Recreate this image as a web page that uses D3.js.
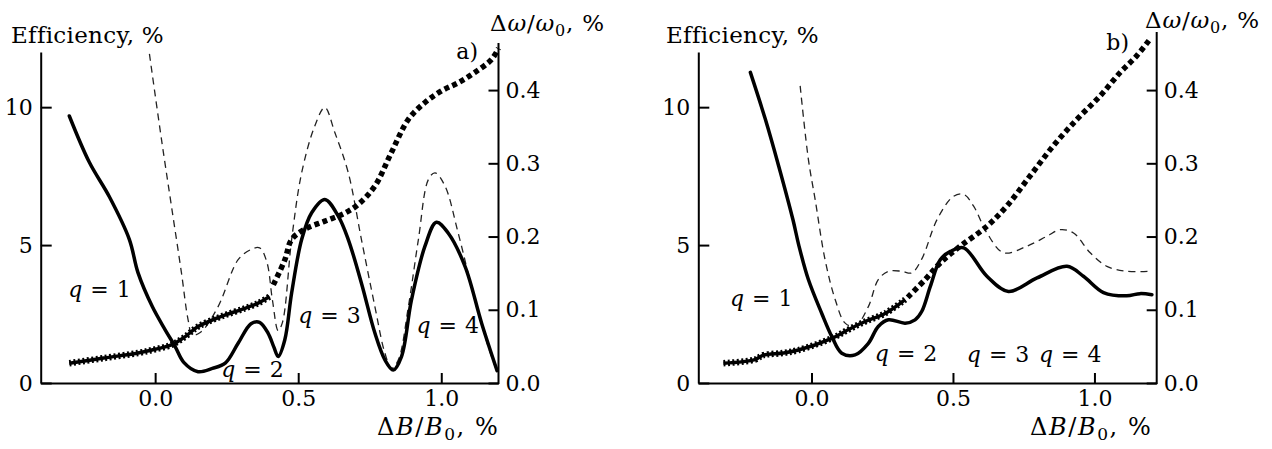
<!DOCTYPE html>
<html>
<head>
<meta charset="utf-8">
<script src="https://cdn.jsdelivr.net/npm/d3@7"></script>
<style>
  body { margin: 0; background: #fff; }
  svg text { font-family: "DejaVu Serif", "Liberation Serif", serif; fill: #000; }
</style>
</head>
<body>
<svg id="chart" width="1272" height="449"></svg>
<script>
// Ticks
const xTicks = [0.0, 0.5, 1.0];
const effTicks = [0, 5, 10];
const shiftTicks = [0.0, 0.1, 0.2, 0.3, 0.4];

// Panel a) : [ΔB/B0 %, efficiency %]
const aSolid = [[-0.30,9.68],[-0.23,8.0],[-0.16,6.75],[-0.09,5.2],[-0.06,4.0],[-0.01,2.77],[0.035,1.93],[0.07,1.32],[0.10,0.75],[0.15,0.41],[0.20,0.53],[0.245,0.72],[0.29,1.44],[0.335,2.15],[0.365,2.2],[0.395,1.8],[0.415,1.3],[0.43,0.96],[0.453,1.56],[0.477,3.26],[0.512,5.2],[0.547,6.17],[0.593,6.65],[0.64,6.05],[0.675,5.2],[0.721,3.62],[0.768,1.81],[0.803,0.84],[0.832,0.47],[0.861,0.96],[0.896,3.02],[0.943,4.96],[0.983,5.83],[1.024,5.44],[1.083,4.23],[1.141,2.17],[1.195,0.45]];
const aDashed = [[-0.02,11.93],[0.022,8.84],[0.057,6.41],[0.092,3.99],[0.115,2.3],[0.13,1.75],[0.16,1.85],[0.22,2.77],[0.29,4.47],[0.335,4.84],[0.365,4.9],[0.39,4.4],[0.41,3.0],[0.43,1.9],[0.445,2.2],[0.477,5.2],[0.512,7.62],[0.558,9.32],[0.593,9.99],[0.628,9.08],[0.675,7.62],[0.721,5.2],[0.768,2.77],[0.803,1.08],[0.826,0.53],[0.85,0.84],[0.885,2.77],[0.92,5.2],[0.955,7.38],[0.978,7.62],[1.013,7.14],[1.059,5.44],[1.117,3.02],[1.164,1.32],[1.19,0.55]];
// Δω/ω0 % (right axis)
const aShiftLow = [[-0.30,0.027],[-0.18,0.034],[-0.06,0.041],[0.0,0.046],[0.057,0.052],[0.104,0.063],[0.15,0.077],[0.232,0.091],[0.314,0.102],[0.36,0.109],[0.40,0.118]];
const aShiftHigh = [[0.413,0.134],[0.453,0.168],[0.477,0.196],[0.523,0.21],[0.593,0.221],[0.663,0.232],[0.71,0.244],[0.768,0.269],[0.826,0.315],[0.885,0.36],[0.943,0.383],[1.001,0.399],[1.059,0.41],[1.117,0.424],[1.176,0.442],[1.2,0.457]];

// Panel b)
const bSolid = [[-0.216,11.26],[-0.163,9.56],[-0.116,7.87],[-0.065,5.9],[-0.045,5.0],[-0.011,3.75],[0.036,2.53],[0.072,1.68],[0.107,1.08],[0.154,1.02],[0.201,1.44],[0.236,2.05],[0.272,2.29],[0.331,2.17],[0.366,2.29],[0.39,2.6],[0.42,3.5],[0.455,4.47],[0.491,4.77],[0.538,4.9],[0.62,3.87],[0.696,3.32],[0.797,3.81],[0.903,4.23],[0.961,3.87],[1.032,3.28],[1.114,3.16],[1.161,3.24],[1.203,3.2]];
const bDashed = [[-0.04,10.77],[-0.011,8.11],[0.013,6.65],[0.048,4.47],[0.084,3.02],[0.119,2.17],[0.154,2.05],[0.201,2.77],[0.236,3.75],[0.272,4.05],[0.319,4.05],[0.354,3.99],[0.39,4.5],[0.444,5.93],[0.502,6.77],[0.538,6.84],[0.573,6.41],[0.62,5.44],[0.679,4.72],[0.761,4.96],[0.832,5.32],[0.879,5.56],[0.926,5.44],[0.985,4.72],[1.044,4.23],[1.114,4.05],[1.197,4.05]];
const bShiftLow = [[-0.311,0.027],[-0.2,0.032],[-0.17,0.038],[-0.1,0.041],[-0.046,0.045],[0.072,0.061],[0.131,0.073],[0.19,0.084],[0.26,0.095],[0.331,0.114]];
const bShiftHigh = [[0.34,0.117],[0.401,0.141],[0.455,0.164],[0.526,0.187],[0.62,0.214],[0.691,0.242],[0.773,0.283],[0.855,0.324],[0.938,0.36],[1.02,0.392],[1.091,0.424],[1.15,0.447],[1.197,0.47]];

// Etiquetas q = n  [x, efficiency]
const aQLabels = [["1",-0.304,3.13],["2",0.231,0.22],["3",0.5,2.18],["4",0.913,1.82]];
const bQLabels = [["1",-0.288,2.8],["2",0.224,0.8],["3",0.549,0.76],["4",0.804,0.76]];

const svg = d3.select('#chart');
const FS = 22;
const FONT = '"DejaVu Serif", "Liberation Serif", serif';

const panels = [
  { x0: 40.7, x1: 498.5, xDomain: [-0.4, 1.2], rightTop: 43,
    solid: aSolid, dashed: aDashed, low: aShiftLow, high: aShiftHigh, q: aQLabels,
    tag: 'a)', tagX: 478, tagY: 59, effX: 11, shiftX: 490, shiftY: 31, xlabX: 377 },
  { x0: 698.3, x1: 1156.7, xDomain: [-0.4, 1.22], rightTop: 32,
    solid: bSolid, dashed: bDashed, low: bShiftLow, high: bShiftHigh, q: bQLabels,
    tag: 'b)', tagX: 1129, tagY: 50, effX: 666, shiftX: 1145, shiftY: 28, xlabX: 1030 }
];

const yBottom = 383, yTop = 52;

panels.forEach(p => {
  const g = svg.append('g');
  const x = d3.scaleLinear().domain(p.xDomain).range([p.x0, p.x1]);
  const yEff = d3.scaleLinear().domain([0, 12]).range([yBottom, yTop]);
  const yShift = d3.scaleLinear().domain([0, 0.452]).range([yBottom, yTop]);

  const curve = d3.curveCatmullRom.alpha(0.5);
  const lineEff = d3.line().x(d => x(d[0])).y(d => yEff(d[1])).curve(curve);
  const lineShift = d3.line().x(d => x(d[0])).y(d => yShift(d[1])).curve(curve);

  // curvas
  g.append('path').attr('d', lineEff(p.dashed))
    .attr('fill', 'none').attr('stroke', '#222').attr('stroke-width', 1.3)
    .attr('stroke-dasharray', '7,5');

  g.append('path').attr('d', lineShift(p.low))
    .attr('fill', 'none').attr('stroke', '#000').attr('stroke-width', 3.5);
  g.append('path').attr('d', lineShift(p.low))
    .attr('fill', 'none').attr('stroke', '#000').attr('stroke-width', 6.5)
    .attr('stroke-dasharray', '2,2.5');
  g.append('path').attr('d', lineShift(p.high))
    .attr('fill', 'none').attr('stroke', '#000').attr('stroke-width', 5.5)
    .attr('stroke-dasharray', '5,3.5');

  g.append('path').attr('d', lineEff(p.solid))
    .attr('fill', 'none').attr('stroke', '#000').attr('stroke-width', 3.5)
    .attr('stroke-linejoin', 'round').attr('stroke-linecap', 'round');

  // ejes
  const axL = g.append('g').attr('transform', `translate(${p.x0},0)`)
    .call(d3.axisLeft(yEff).tickValues(effTicks).tickSize(-11).tickSizeOuter(0).tickPadding(8));
  const axR = g.append('g').attr('transform', `translate(${p.x1},0)`)
    .call(d3.axisRight(yShift).tickValues(shiftTicks).tickSize(-10).tickSizeOuter(0).tickPadding(7).tickFormat(d3.format('.1f')));
  const axB = g.append('g').attr('transform', `translate(0,${yBottom})`)
    .call(d3.axisBottom(x).tickValues(xTicks).tickSize(-10).tickSizeOuter(0).tickPadding(7).tickFormat(d3.format('.1f')));
  axR.select('.domain').remove();
  g.append('line').attr('x1', p.x1).attr('x2', p.x1).attr('y1', yBottom + 1).attr('y2', p.rightTop)
    .attr('stroke', '#000').attr('stroke-width', 2);

  [axL, axR, axB].forEach(a => {
    a.selectAll('.domain').attr('stroke', '#000').attr('stroke-width', 2);
    a.selectAll('.tick line').attr('stroke', '#000').attr('stroke-width', 2);
    a.selectAll('.tick text').attr('font-size', FS).attr('font-family', FONT).attr('fill', '#000');
  });

  // textos
  g.append('text').attr('x', p.effX).attr('y', 43).attr('font-size', 23)
    .attr('letter-spacing', 0.3).text('Efficiency, %');

  const ts = g.append('text').attr('x', p.shiftX).attr('y', p.shiftY).attr('font-size', 23)
    .attr('letter-spacing', 0.8);
  ts.append('tspan').text('Δ');
  ts.append('tspan').attr('font-style', 'italic').text('ω');
  ts.append('tspan').text('/');
  ts.append('tspan').attr('font-style', 'italic').text('ω');
  ts.append('tspan').attr('font-size', 16).attr('dy', 5).text('0');
  ts.append('tspan').attr('dy', -5).text(', %');

  const tx = g.append('text').attr('x', p.xlabX).attr('y', 435).attr('font-size', 24)
    .attr('letter-spacing', 1.6);
  tx.append('tspan').text('Δ');
  tx.append('tspan').attr('font-style', 'italic').text('B');
  tx.append('tspan').text('/');
  tx.append('tspan').attr('font-style', 'italic').text('B');
  tx.append('tspan').attr('font-size', 17).attr('dy', 5).text('0');
  tx.append('tspan').attr('dy', -5).text(', %');

  g.append('text').attr('x', p.tagX).attr('y', p.tagY).attr('font-size', FS)
    .attr('text-anchor', 'end').text(p.tag);

  p.q.forEach(([n, qx, qy]) => {
    const t = g.append('text').attr('x', x(qx)).attr('y', yEff(qy)).attr('font-size', FS)
      .attr('word-spacing', 1);
    t.append('tspan').attr('font-style', 'italic').text('q');
    t.append('tspan').text(' = ' + n);
  });
});
</script>
</body>
</html>
